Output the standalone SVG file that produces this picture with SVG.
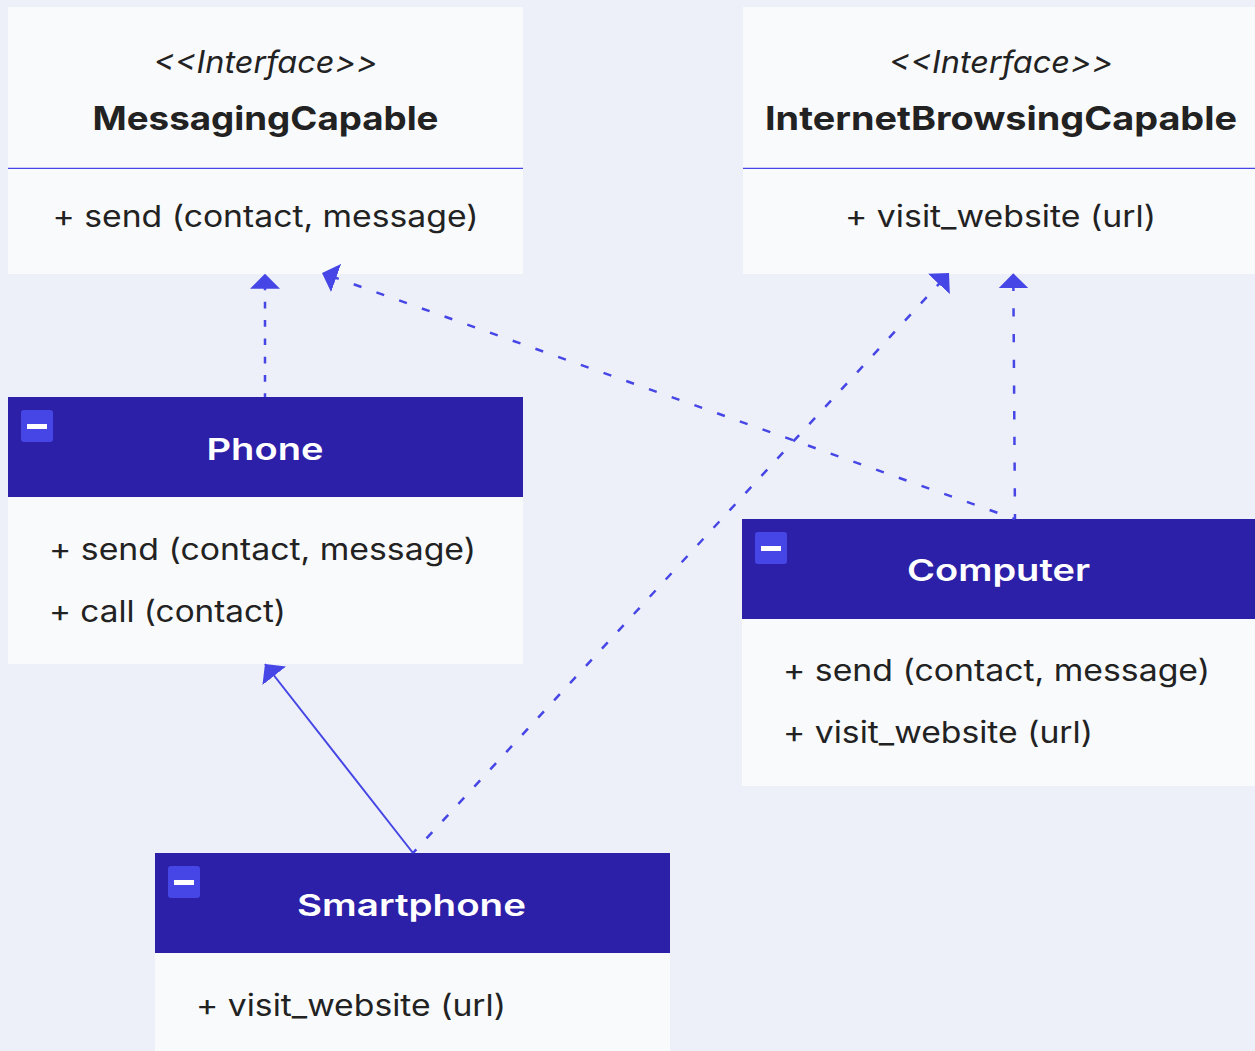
<svg xmlns="http://www.w3.org/2000/svg" width="1255" height="1051" viewBox="0 0 1255 1051">
  <style>
    .bg { fill: #EDF0F8; }
    .box { fill: #F9FAFC; }
    .head { fill: #2C20A8; }
    .divider { stroke: #4646E6; stroke-width: 1.3; }
    .icon { fill: #4646E6; }
    .bar { fill: #FFFFFF; }
    text { font-family: Inter, "Liberation Sans", sans-serif; fill: #222222; }
    .stereo { font-size: 31px; font-style: italic; text-anchor: middle; }
    .iname { font-size: 33px; font-weight: 700; text-anchor: middle; }
    .cname { font-size: 30px; font-weight: 600; text-anchor: middle; fill: #FFFFFF; }
    .member { font-size: 30px; }
    .member-c { font-size: 30px; text-anchor: middle; }
    .link { fill: none; stroke: #4646E6; stroke-width: 2.5; }
    .solid { fill: none; stroke: #4646E6; stroke-width: 2; }
  </style>
  <defs>
    <marker id="head" markerUnits="userSpaceOnUse" viewBox="0 0 15 30" refX="15" refY="15" markerWidth="15" markerHeight="30" orient="auto">
      <path d="M0,0 L15,15 L0,30 Z" fill="#4646E6"/>
    </marker>
  </defs>

  <rect class="bg" x="0" y="0" width="1255" height="1051"/>

  <!-- interface: MessagingCapable -->
  <g id="messaging-capable">
    <rect class="box" x="8" y="7" width="515" height="267"/>
    <text class="stereo" x="265.5" y="73" textLength="224" lengthAdjust="spacingAndGlyphs">&lt;&lt;Interface&gt;&gt;</text>
    <text class="iname" x="265.5" y="129.5" textLength="346" lengthAdjust="spacingAndGlyphs">MessagingCapable</text>
    <line class="divider" x1="8" y1="168.3" x2="523" y2="168.3"/>
    <text class="member-c" x="265.5" y="226.5" textLength="426" lengthAdjust="spacingAndGlyphs">+ send (contact, message)</text>
  </g>

  <!-- interface: InternetBrowsingCapable -->
  <g id="internet-browsing-capable">
    <rect class="box" x="743" y="7" width="515" height="267"/>
    <text class="stereo" x="1001" y="73" textLength="224" lengthAdjust="spacingAndGlyphs">&lt;&lt;Interface&gt;&gt;</text>
    <text class="iname" x="1001" y="129.5" textLength="472" lengthAdjust="spacingAndGlyphs">InternetBrowsingCapable</text>
    <line class="divider" x1="743" y1="168.3" x2="1258" y2="168.3"/>
    <text class="member-c" x="1000.5" y="226.5" textLength="311" lengthAdjust="spacingAndGlyphs">+ visit_website (url)</text>
  </g>

  <!-- class: Phone -->
  <g id="phone">
    <rect class="box" x="8" y="397" width="515" height="267"/>
    <rect class="head" x="8" y="397" width="515" height="100"/>
    <rect class="icon" x="21" y="410" width="32" height="32" rx="3"/>
    <rect class="bar" x="27" y="424" width="20" height="5"/>
    <text class="cname" x="265" y="459.5" textLength="117" lengthAdjust="spacingAndGlyphs">Phone</text>
    <text class="member" x="49" y="560" textLength="427" lengthAdjust="spacingAndGlyphs">+ send (contact, message)</text>
    <text class="member" x="49" y="622" textLength="237" lengthAdjust="spacingAndGlyphs">+ call (contact)</text>
  </g>

  <!-- class: Computer -->
  <g id="computer">
    <rect class="box" x="742" y="519" width="515" height="267"/>
    <rect class="head" x="742" y="519" width="515" height="100"/>
    <rect class="icon" x="755" y="532" width="32" height="32" rx="3"/>
    <rect class="bar" x="761" y="546" width="20" height="5"/>
    <text class="cname" x="998.5" y="580.5" textLength="183" lengthAdjust="spacingAndGlyphs">Computer</text>
    <text class="member" x="783" y="681" textLength="427" lengthAdjust="spacingAndGlyphs">+ send (contact, message)</text>
    <text class="member" x="783" y="743" textLength="310" lengthAdjust="spacingAndGlyphs">+ visit_website (url)</text>
  </g>

  <!-- class: Smartphone -->
  <g id="smartphone">
    <rect class="box" x="155" y="853" width="515" height="220"/>
    <rect class="head" x="155" y="853" width="515" height="100"/>
    <rect class="icon" x="168" y="866" width="32" height="32" rx="3"/>
    <rect class="bar" x="174" y="880" width="20" height="5"/>
    <text class="cname" x="411.5" y="916" textLength="229" lengthAdjust="spacingAndGlyphs">Smartphone</text>
    <text class="member" x="196" y="1016" textLength="310" lengthAdjust="spacingAndGlyphs">+ visit_website (url)</text>
  </g>

  <!-- relations -->
  <g id="connectors">
    <!-- Phone realizes MessagingCapable -->
    <path class="link" d="M265,397 L265,273.7" stroke-dasharray="6.7 11.6" stroke-dashoffset="3" marker-end="url(#head)"/>
    <!-- Computer realizes MessagingCapable -->
    <path class="link" d="M1015,519 L322,273" stroke-dasharray="8.2 15.9" stroke-dashoffset="5.4" marker-end="url(#head)"/>
    <!-- Computer realizes InternetBrowsingCapable -->
    <path class="link" d="M1015,519 L1013.3,273.3" stroke-dasharray="8.3 17.4" stroke-dashoffset="3.2" marker-end="url(#head)"/>
    <!-- Smartphone realizes InternetBrowsingCapable -->
    <path class="link" d="M413,853 L949,273" stroke-dasharray="8.5 15" stroke-dashoffset="3.6" marker-end="url(#head)"/>
    <!-- Smartphone extends Phone -->
    <path class="solid" d="M413,853 L265,664" marker-end="url(#head)"/>
  </g>
</svg>
